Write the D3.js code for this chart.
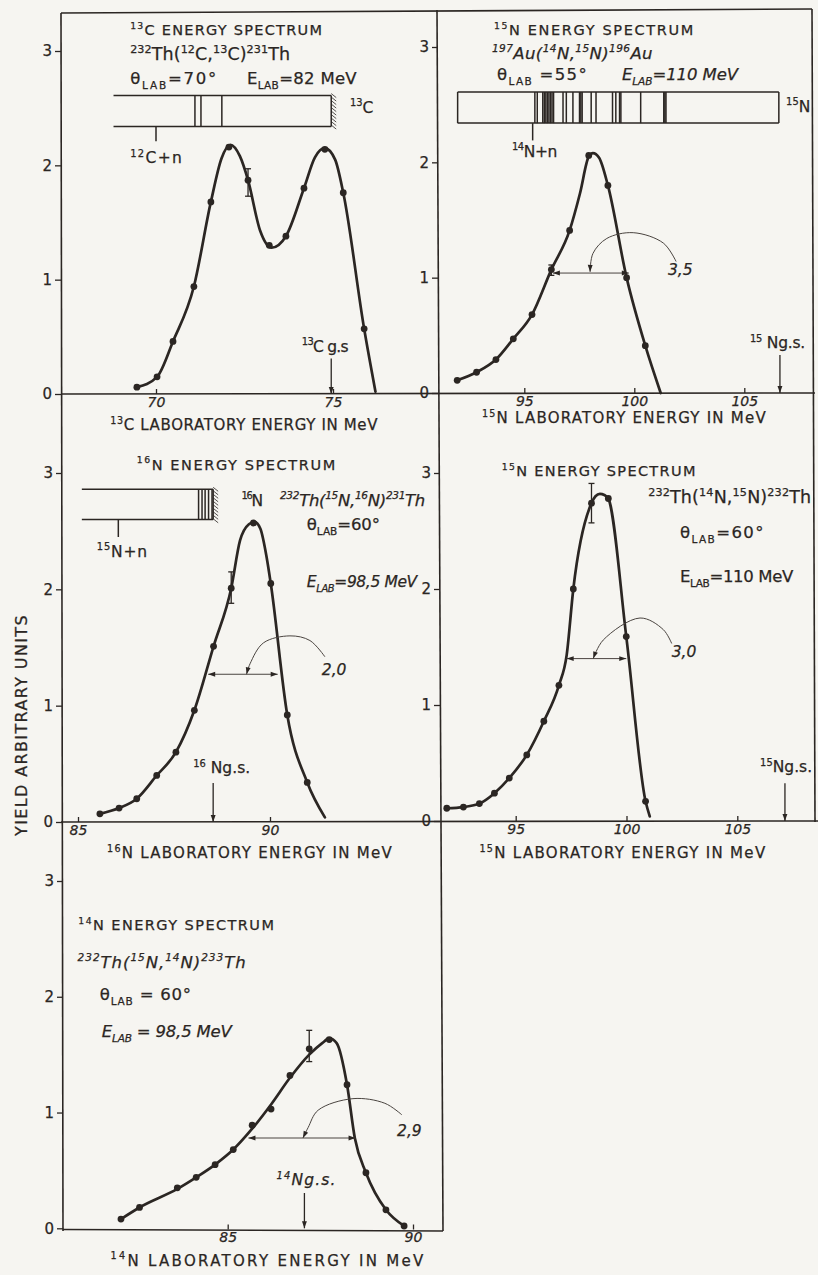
<!DOCTYPE html>
<html>
<head>
<meta charset="utf-8">
<script src="https://cdn.jsdelivr.net/npm/d3@7"></script>
<style>
  body { margin: 0; background: #f6f5f1; }
  svg { display: block; }
  text { font-family: "DejaVu Sans", sans-serif; fill: #2b2623; stroke: #2b2623; stroke-width: 0.25px; }
</style>
</head>
<body>
<svg id="fig" width="818" height="1275"></svg>
<script>
// --- 13C spectrum, 232Th(12C,13C)231Th
const c13X = [69.46, 70.03, 70.48, 71.07, 71.55, 72.06, 72.6, 73.2, 73.67, 74.18, 74.77, 75.29, 75.88];
const c13Y = [0.06, 0.15, 0.46, 0.94, 1.68, 2.16, 1.87, 1.30, 1.38, 1.80, 2.14, 1.76, 0.57];
const c13CurveX = [69.46, 70.03, 70.48, 71.07, 71.55, 71.85, 72.1, 72.37, 72.6, 72.94, 73.27, 73.67, 74.18, 74.49, 74.77, 75.06, 75.29, 75.88, 76.2];
const c13CurveY = [0.06, 0.15, 0.46, 0.94, 1.68, 2.06, 2.18, 2.08, 1.87, 1.43, 1.28, 1.38, 1.80, 2.07, 2.15, 2.05, 1.76, 0.57, 0.02];
const c13Err = [72.6, 1.73, 1.97];
const c13Levels = [71.1, 71.27, 71.86];
const c13Gs = 74.95, c13Thresh = 70.0, c13BarStart = 68.8;

// --- 15N spectrum, 197Au(14N,15N)196Au
const n15auX = [91.95, 92.83, 93.71, 94.5, 95.35, 96.23, 97.06, 97.93, 98.8, 99.65, 100.5];
const n15auY = [0.11, 0.18, 0.29, 0.47, 0.68, 1.07, 1.41, 2.06, 1.80, 1.00, 0.41];
const n15auCurveX = [91.95, 92.83, 93.71, 94.5, 95.35, 96.23, 97.06, 97.53, 97.93, 98.12, 98.4, 98.8, 99.65, 100.5, 101.2];
const n15auCurveY = [0.11, 0.18, 0.29, 0.47, 0.68, 1.07, 1.41, 1.73, 2.05, 2.08, 2.04, 1.80, 1.00, 0.41, 0.0];
const n15auErr = [96.23, 1.02, 1.11];
const n15auLevels = [95.48, 95.59, 95.84, 95.91, 95.98, 96.05, 96.12, 96.19, 96.26, 96.33, 96.76, 96.91, 97.21,
                     97.51, 97.57, 97.63, 98.04, 98.26, 99.01, 99.16, 99.33, 99.39, 100.29, 101.34, 101.39, 101.44];
const n15auGs = 106.62, n15auThresh = 95.38, n15auBarStart = 91.97;
const n15auFwhm = [96.3, 99.75, 1.04];
const n15auArcX = [97.99, 98.12, 98.75, 99.95, 101.32, 101.9];
const n15auArcY = [1.05, 1.21, 1.34, 1.39, 1.30, 1.14];

// --- 16N spectrum, 232Th(15N,16N)231Th
const n16X = [85.57, 86.07, 86.53, 87.05, 87.55, 88.03, 88.53, 88.99, 89.57, 90.02, 90.45, 90.97];
const n16Y = [0.07, 0.12, 0.20, 0.40, 0.60, 0.96, 1.51, 2.01, 2.57, 2.05, 0.92, 0.34];
const n16CurveX = [85.57, 86.07, 86.53, 87.05, 87.55, 88.03, 88.53, 88.99, 89.22, 89.45, 89.6, 89.75, 89.91, 90.02, 90.45, 90.97, 91.43];
const n16CurveY = [0.07, 0.12, 0.20, 0.40, 0.60, 0.96, 1.51, 2.01, 2.42, 2.56, 2.58, 2.52, 2.28, 2.05, 0.92, 0.34, 0.04];
const n16Err = [88.99, 1.88, 2.15];
const n16Levels = [88.14, 88.23, 88.31, 88.40, 88.49];
const n16Gs = 88.52, n16Thresh = 86.05, n16BarStart = 85.1;
const n16Fwhm = [88.39, 90.2, 1.27];
const n16ArcX = [89.39, 89.48, 89.83, 90.52, 91.04, 91.43];
const n16ArcY = [1.27, 1.36, 1.54, 1.60, 1.56, 1.42];

// --- 15N spectrum, 232Th(14N,15N)231Th
const n15thX = [91.89, 92.64, 93.36, 94.04, 94.71, 95.5, 96.27, 96.95, 97.6, 98.42, 99.18, 99.99, 100.86];
const n15thY = [0.11, 0.12, 0.15, 0.24, 0.37, 0.57, 0.86, 1.17, 2.0, 2.74, 2.78, 1.59, 0.17];
const n15thCurveX = [91.89, 92.64, 93.36, 94.04, 94.71, 95.5, 96.27, 96.95, 97.3, 97.6, 98.42, 98.6, 98.8, 99.0, 99.18, 99.99, 100.86, 101.05];
const n15thCurveY = [0.11, 0.12, 0.15, 0.24, 0.37, 0.57, 0.86, 1.17, 1.43, 2.0, 2.74, 2.80, 2.82, 2.81, 2.78, 1.59, 0.17, 0.04];
const n15thErr = [98.42, 2.57, 2.91];
const n15thGs = 107.15;
const n15thFwhm = [97.3, 99.99, 1.40];
const n15thArcX = [98.5, 98.95, 100.61, 101.66, 102.04];
const n15thArcY = [1.40, 1.56, 1.75, 1.65, 1.53];

// --- 14N spectrum, 232Th(15N,14N)233Th
const n14X = [82.12, 82.62, 83.64, 84.15, 84.66, 85.15, 85.66, 86.17, 86.68, 87.2, 87.74, 88.22, 88.73, 89.27, 89.76];
const n14Y = [0.08, 0.18, 0.35, 0.44, 0.55, 0.68, 0.89, 1.03, 1.32, 1.55, 1.63, 1.24, 0.48, 0.16, 0.02];
const n14CurveX = [82.12, 82.62, 83.64, 84.15, 84.66, 85.15, 85.66, 86.17, 86.68, 87.2, 87.55, 87.74, 87.94, 88.22, 88.43, 88.73, 89.27, 89.76];
const n14CurveY = [0.08, 0.18, 0.34, 0.44, 0.55, 0.68, 0.86, 1.07, 1.30, 1.50, 1.60, 1.64, 1.60, 1.24, 0.78, 0.48, 0.16, 0.02];
const n14Err = [87.2, 1.44, 1.71];
const n14Gs = 87.07;
const n14Fwhm = [85.56, 88.45, 0.78];
const n14ArcX = [87.03, 87.17, 87.44, 88.38, 89.24, 89.7];
const n14ArcY = [0.78, 0.87, 1.02, 1.12, 1.08, 0.98];

const yTicks = [0, 1, 2, 3];

const ink = "#2b2623";
const svg = d3.select("#fig");
svg.append("rect").attr("width", 818).attr("height", 1275).attr("fill", "#f6f5f1");

svg.append("defs").append("marker")
    .attr("id", "ah")
    .attr("viewBox", "0 0 10 10")
    .attr("refX", 10).attr("refY", 5)
    .attr("markerWidth", 9).attr("markerHeight", 7)
    .attr("markerUnits", "userSpaceOnUse")
    .attr("orient", "auto-start-reverse")
    .append("path").attr("d", "M0,1.5 L10,5 L0,8.5 z").attr("fill", ink);

// texte avec exposants ^{..} et indices _{..}
function rich(g, str, x, y, size, opt = {}) {
    const t = g.append("text").attr("x", x).attr("y", y).attr("font-size", size);
    if (opt.anchor) t.attr("text-anchor", opt.anchor);
    if (opt.italic) t.attr("font-style", "italic");
    let shift = 0;
    str.split(/(\^\{[^}]*\}|_\{[^}]*\})/).filter(s => s).forEach(s => {
        let target = 0, fs = size, txt = s;
        if (s[0] === "^") { target = -0.42 * size; fs = 0.64 * size; txt = s.slice(2, -1); }
        else if (s[0] === "_") { target = 0.3 * size; fs = 0.64 * size; txt = s.slice(2, -1); }
        t.append("tspan").attr("dy", target - shift).attr("font-size", fs).text(txt);
        shift = target;
    });
    if (opt.w) {
        const len = t.node().getComputedTextLength();
        t.attr("letter-spacing", (opt.w - len) / t.text().length);
    }
    return t;
}

// cadre
const frame = [
    [[61, 13], [812, 9]],
    [[61, 13], [63, 1231]],
    [[437, 10], [443, 1231]],
    [[812, 9], [815, 822]],
    [[61, 394], [815, 393]],
    [[61, 822], [818, 821]],
    [[63, 1229.5], [443, 1231]]
];
svg.append("g").selectAll("line").data(frame).join("line")
    .attr("x1", d => d[0][0]).attr("y1", d => d[0][1])
    .attr("x2", d => d[1][0]).attr("y2", d => d[1][1])
    .attr("stroke", ink).attr("stroke-width", 1.6);

const panels = [
    {
        xs: c13X, ys: c13Y, cx: c13CurveX, cy: c13CurveY, err: c13Err,
        axisX: 61, axisY: 394, xDom: [70, 75], xRng: [156, 333], yRng: [394, 51], xTicks: [70, 75],
        bar: { start: c13BarStart, end: c13Gs, levels: c13Levels, thresh: c13Thresh, top: 2.61, bot: 2.34, tick: 2.21, closed: false, hatch: true },
        gs: c13Gs, gsTop: 0.31,
        title: { t: "^{13}C LABORATORY ENERGY IN MeV", x: 72.49, dy: 36, w: 268 },
        texts: [
            { t: "^{13}C ENERGY SPECTRUM", x: 69.27, y: 3.14, s: 14.5, w: 193 },
            { t: "^{232}Th(^{12}C,^{13}C)^{231}Th", x: 69.27, y: 2.92, s: 17.5, w: 160 },
            { t: "θ_{LAB}=70°", x: 69.27, y: 2.71, s: 16.5, w: 88 },
            { t: "E_{LAB}=82 MeV", x: 72.57, y: 2.71, s: 16.5, w: 110 },
            { t: "^{13}C", x: 75.48, y: 2.46, s: 15.5 },
            { t: "^{12}C+n", x: 69.27, y: 2.02, s: 15.5, w: 53 },
            { t: "^{13}C g.s", x: 74.12, y: 0.37, s: 15.5, w: 46 }
        ]
    },
    {
        xs: n15auX, ys: n15auY, cx: n15auCurveX, cy: n15auCurveY, err: n15auErr,
        axisX: 438, axisY: 393, xDom: [95, 105], xRng: [524.3, 744.3], yRng: [393, 47], xTicks: [95, 100, 105],
        bar: { start: n15auBarStart, end: n15auGs - 0.05, levels: n15auLevels, thresh: n15auThresh, top: 2.61, bot: 2.34, tick: 2.19, closed: true, hatch: false },
        gs: n15auGs, gsTop: 0.33,
        fwhm: n15auFwhm, arcX: n15auArcX, arcY: n15auArcY, fwhmLabel: { t: "3,5", x: 101.53, y: 1.02 },
        title: { t: "^{15}N LABORATORY ENERGY IN MeV", x: 99.55, dy: 30, w: 285 },
        texts: [
            { t: "^{15}N ENERGY SPECTRUM", x: 93.62, y: 3.10, s: 14.5, w: 201 },
            { t: "^{197}Au(^{14}N,^{15}N)^{196}Au", x: 93.53, y: 2.90, s: 16.5, w: 161, italic: true },
            { t: "θ_{LAB} =55°", x: 93.76, y: 2.71, s: 16.5, w: 91 },
            { t: "E_{LAB}=110 MeV", x: 99.44, y: 2.71, s: 16.5, w: 116, italic: true },
            { t: "^{15}N", x: 106.9, y: 2.44, s: 15.5 },
            { t: "^{14}N+n", x: 94.44, y: 2.05, s: 15.5, w: 45 },
            { t: "^{15} Ng.s.", x: 105.26, y: 0.39, s: 15.5, w: 55 }
        ]
    },
    {
        xs: n16X, ys: n16Y, cx: n16CurveX, cy: n16CurveY, err: n16Err,
        axisX: 62, axisY: 822, xDom: [85, 90], xRng: [78, 270], yRng: [822, 473], xTicks: [85, 90],
        bar: { start: n16BarStart, end: n16Gs, levels: n16Levels, thresh: n16Thresh, top: 2.86, bot: 2.6, tick: 2.45, closed: false, hatch: true },
        gs: n16Gs, gsTop: 0.335,
        fwhm: n16Fwhm, arcX: n16ArcX, arcY: n16ArcY, fwhmLabel: { t: "2,0", x: 91.35, y: 1.26 },
        title: { t: "^{16}N LABORATORY ENERGY IN MeV", x: 89.48, dy: 36, w: 286 },
        texts: [
            { t: "^{16}N ENERGY SPECTRUM", x: 86.53, y: 3.03, s: 14.5, w: 200 },
            { t: "^{232}Th(^{15}N,^{16}N)^{231}Th", x: 90.26, y: 2.72, s: 16.5, w: 145, italic: true },
            { t: "θ_{LAB}=60°", x: 90.96, y: 2.51, s: 16.5, w: 73 },
            { t: "E_{LAB}=98,5 MeV", x: 90.96, y: 2.02, s: 15.5, w: 110, italic: true },
            { t: "^{16}N", x: 89.26, y: 2.72, s: 15.5, w: 20 },
            { t: "^{15}N+n", x: 85.49, y: 2.28, s: 15.5, w: 51 },
            { t: "^{16} Ng.s.", x: 88.0, y: 0.42, s: 15.5, w: 57 }
        ]
    },
    {
        xs: n15thX, ys: n15thY, cx: n15thCurveX, cy: n15thCurveY, err: n15thErr,
        axisX: 440, axisY: 821, xDom: [95, 105], xRng: [515.7, 737.3], yRng: [821, 473], xTicks: [95, 100, 105],
        gs: n15thGs, gsTop: 0.325,
        fwhm: n15thFwhm, arcX: n15thArcX, arcY: n15thArcY, fwhmLabel: { t: "3,0", x: 102.04, y: 1.41 },
        title: { t: "^{15}N LABORATORY ENERGY IN MeV", x: 99.84, dy: 37, w: 287 },
        texts: [
            { t: "^{15}N ENERGY SPECTRUM", x: 94.37, y: 2.97, s: 14.5, w: 195 },
            { t: "^{232}Th(^{14}N,^{15}N)^{232}Th", x: 100.98, y: 2.74, s: 17.5, w: 163 },
            { t: "θ_{LAB}=60°", x: 102.41, y: 2.44, s: 16.5, w: 85 },
            { t: "E_{LAB}=110 MeV", x: 102.41, y: 2.06, s: 16.5, w: 113 },
            { t: "^{15}Ng.s.", x: 106.03, y: 0.42, s: 15.5, w: 52 }
        ]
    },
    {
        xs: n14X, ys: n14Y, cx: n14CurveX, cy: n14CurveY, err: n14Err,
        axisX: 63, axisY: 1229.5, xDom: [85, 90], xRng: [227.7, 413], yRng: [1228.3, 881], xTicks: [85, 90],
        gs: n14Gs, gsTop: 0.305,
        fwhm: n14Fwhm, arcX: n14ArcX, arcY: n14ArcY, fwhmLabel: { t: "2,9", x: 89.57, y: 0.8 },
        title: { t: "^{14}N LABORATORY ENERGY IN MeV", x: 86.09, dy: 36, w: 315 },
        texts: [
            { t: "^{14}N ENERGY SPECTRUM", x: 80.97, y: 2.58, s: 14.5, w: 197 },
            { t: "^{232}Th(^{15}N,^{14}N)^{233}Th", x: 80.95, y: 2.25, s: 16.5, w: 169, italic: true },
            { t: "θ_{LAB} = 60°", x: 81.55, y: 1.97, s: 16.5, w: 92 },
            { t: "E_{LAB} = 98,5 MeV", x: 81.6, y: 1.65, s: 16.5, w: 130, italic: true },
            { t: "^{14}Ng.s.", x: 86.32, y: 0.37, s: 15.5, w: 60, italic: true }
        ]
    }
];

panels.forEach(p => {
    const x = d3.scaleLinear().domain(p.xDom).range(p.xRng);
    const y = d3.scaleLinear().domain([0, 3]).range(p.yRng);
    const g = svg.append("g");

    // axe y
    g.append("g")
        .attr("transform", `translate(${p.axisX},0)`)
        .call(d3.axisLeft(y).tickValues(yTicks).tickSize(6).tickPadding(3).tickFormat(d3.format("d")))
        .call(a => a.select(".domain").remove())
        .attr("font-size", 15)
        .call(a => a.selectAll("line").attr("stroke", ink).attr("stroke-width", 1.3));

    // axe x (graduations vers le haut)
    g.append("g")
        .attr("transform", `translate(0,${p.axisY})`)
        .call(d3.axisBottom(x).tickValues(p.xTicks).tickSizeInner(-5).tickSizeOuter(0).tickPadding(3).tickFormat(d3.format("d")))
        .call(a => a.select(".domain").remove())
        .attr("font-size", 14)
        .call(a => a.selectAll("text").attr("font-style", "italic"))
        .call(a => a.selectAll("line").attr("stroke", ink).attr("stroke-width", 1.3));

    rich(g, p.title.t, x(p.title.x), p.axisY + p.title.dy, 15, { anchor: "middle", w: p.title.w });

    // schéma des niveaux
    if (p.bar) {
        const b = p.bar, yt = y(b.top), yb = y(b.bot), xr = x(b.end);
        const lv = g.append("g").attr("stroke", ink).attr("stroke-width", 1.5);
        lv.append("line").attr("x1", x(b.start)).attr("x2", xr).attr("y1", yt).attr("y2", yt);
        lv.append("line").attr("x1", x(b.start)).attr("x2", xr).attr("y1", yb).attr("y2", yb);
        lv.append("line").attr("x1", xr).attr("x2", xr).attr("y1", yt).attr("y2", yb);
        if (b.closed) lv.append("line").attr("x1", x(b.start)).attr("x2", x(b.start)).attr("y1", yt).attr("y2", yb);
        lv.selectAll(".lvl").data(b.levels).join("line").attr("class", "lvl")
            .attr("x1", d => x(d)).attr("x2", d => x(d)).attr("y1", yt).attr("y2", yb);
        lv.append("line").attr("x1", x(b.thresh)).attr("x2", x(b.thresh)).attr("y1", yb).attr("y2", y(b.tick));
        if (b.hatch) {
            lv.selectAll(".h").data(d3.range(yt + 1, yb + 3, 3.5)).join("line").attr("class", "h")
                .attr("stroke-width", 0.8)
                .attr("x1", xr).attr("y1", d => d - 3).attr("x2", xr + 5).attr("y2", d => d + 1);
        }
    }

    // courbe lissée
    const curve = d3.line().x(d => x(d[0])).y(d => y(d[1])).curve(d3.curveMonotoneX);
    g.append("path").datum(d3.zip(p.cx, p.cy))
        .attr("d", curve).attr("fill", "none")
        .attr("stroke", ink).attr("stroke-width", 2.7).attr("stroke-linejoin", "round").attr("stroke-linecap", "round");

    g.selectAll(".pt").data(d3.zip(p.xs, p.ys)).join("circle").attr("class", "pt")
        .attr("cx", d => x(d[0])).attr("cy", d => y(d[1])).attr("r", 3.4).attr("fill", ink);

    // barre d'erreur
    const e = p.err;
    g.append("line").attr("x1", x(e[0])).attr("x2", x(e[0])).attr("y1", y(e[1])).attr("y2", y(e[2]))
        .attr("stroke", ink).attr("stroke-width", 1.3);
    [e[1], e[2]].forEach(v => g.append("line")
        .attr("x1", x(e[0]) - 3).attr("x2", x(e[0]) + 3).attr("y1", y(v)).attr("y2", y(v))
        .attr("stroke", ink).attr("stroke-width", 1.3));

    // largeur à mi-hauteur
    if (p.fwhm) {
        const arc = d3.line().x(d => x(d[0])).y(d => y(d[1])).curve(d3.curveCatmullRom.alpha(0.5));
        g.append("line")
            .attr("x1", x(p.fwhm[0])).attr("x2", x(p.fwhm[1])).attr("y1", y(p.fwhm[2])).attr("y2", y(p.fwhm[2]))
            .attr("stroke", "#4a4440").attr("stroke-width", 1)
            .attr("marker-start", "url(#ah)").attr("marker-end", "url(#ah)");
        g.append("path").datum(d3.zip(p.arcX, p.arcY))
            .attr("d", arc).attr("fill", "none").attr("stroke", "#4a4440").attr("stroke-width", 1)
            .attr("marker-start", "url(#ah)");
        rich(g, p.fwhmLabel.t, x(p.fwhmLabel.x), y(p.fwhmLabel.y), 15.5, { italic: true });
    }

    // flèche état fondamental
    g.append("line").attr("x1", x(p.gs)).attr("x2", x(p.gs)).attr("y1", y(p.gsTop)).attr("y2", y(0))
        .attr("stroke", ink).attr("stroke-width", 1.3).attr("marker-end", "url(#ah)");

    p.texts.forEach(t => rich(g, t.t, x(t.x), y(t.y), t.s, { w: t.w, italic: t.italic }));
});

// titre de l'axe y
rich(svg.append("g").attr("transform", "translate(27,725) rotate(-90)"),
    "YIELD ARBITRARY UNITS", 0, 0, 16, { anchor: "middle", w: 222 });
</script>
</body>
</html>
